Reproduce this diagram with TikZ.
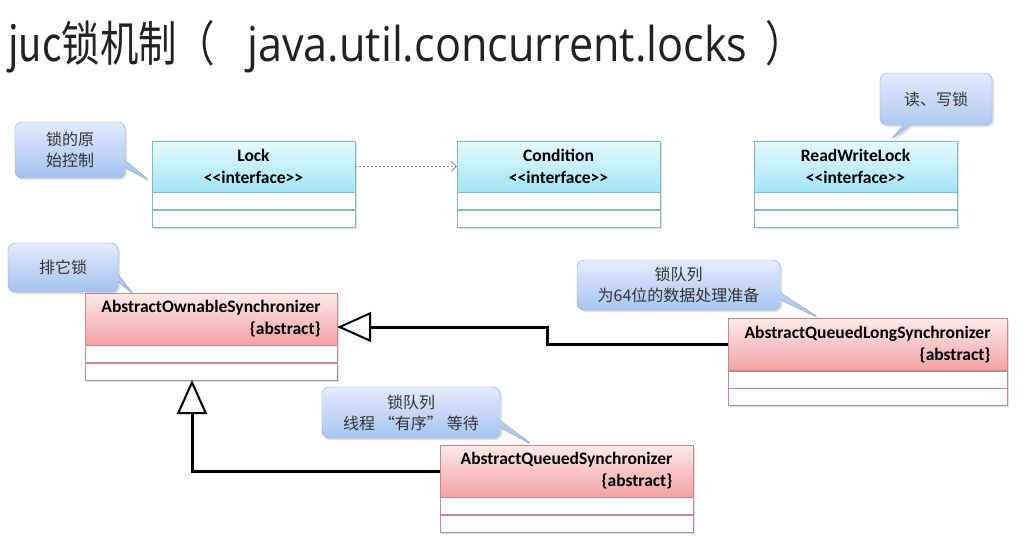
\documentclass[tikz,border=0pt]{standalone}
\usepackage{fontspec}
\setmainfont{Carlito}[Ligatures=TeXOff]
\newfontfamily\cjk{Noto Sans CJK SC}
\newfontfamily\cjktitle{Noto Sans CJK SC}[FakeStretch=0.8]
\newfontfamily\latintitle{Open Sans}[FakeStretch=0.9]
\usetikzlibrary{positioning,shapes.callouts,arrows.meta,shadows}

\definecolor{ifTop}{HTML}{E6FAFE}
\definecolor{ifBot}{HTML}{A4E4F4}
\definecolor{ifLine}{HTML}{86B6C4}
\definecolor{absTop}{HTML}{FDEAEA}
\definecolor{absBot}{HTML}{F2A2A2}
\definecolor{absLine}{HTML}{C48A8A}
\definecolor{noteTop}{HTML}{E2ECFC}
\definecolor{noteBot}{HTML}{A0BEEE}
\definecolor{noteLine}{HTML}{8FA8D4}
\definecolor{noteText}{HTML}{333333}
\definecolor{titleText}{HTML}{222222}
\definecolor{depLine}{HTML}{8A8A8A}

\tikzset{
  boxshadow/.style={drop shadow={opacity=0.25, shadow xshift=2pt, shadow yshift=-2pt}},
  ifhead/.style={draw=ifLine, top color=ifTop, bottom color=ifBot, minimum width=203pt,
                 minimum height=51pt, inner sep=0pt, align=center,
                 font=\fontsize{17.5}{22}\selectfont\bfseries, boxshadow},
  ifcomp/.style={draw=ifLine, fill=white, minimum width=203pt, minimum height=17pt,
                 inner sep=0pt, boxshadow},
  abshead/.style={draw=absLine, top color=absTop, bottom color=absBot, minimum width=#1,
                  minimum height=52pt, inner sep=0pt, align=right,
                  font=\fontsize{17.5}{22}\selectfont\bfseries, boxshadow},
  abscomp/.style={draw=absLine, fill=white, minimum width=#1, minimum height=17pt,
                  inner sep=0pt, boxshadow},
  note/.style={rectangle callout, rounded corners=7pt, draw=noteLine, top color=noteTop,
               bottom color=noteBot, text=noteText, align=center, inner sep=0pt,
               font=\cjk\fontsize{16}{21}\selectfont, boxshadow},
  depend/.style={draw=depLine, line width=0.8pt, dash pattern=on 2pt off 2pt,
                 -{Straight Barb[length=5pt,width=10pt]}},
  inherit/.style={line width=3pt, -{Triangle[open, length=34pt, width=30pt, line width=2pt]}}
}

\begin{document}
\begin{tikzpicture}[x=1pt, y=-1pt]
\useasboundingbox[fill=white] (0,0) rectangle (1030,548);

\node[anchor=base west, inner sep=0pt, font=\cjktitle\fontsize{48}{52}\selectfont, text=titleText] (title)
  at (8,62) {juc锁机制（\hspace*{32pt}{\latintitle java.util.concurrent.locks}\hspace*{18pt}）};

% interfaces
\node[ifhead] (lock) at (253.5,166.5) {Lock\\<<interface>>};
\node[ifcomp, below=0pt of lock] (lock1) {};
\node[ifcomp, below=0pt of lock1] (lock2) {};

\node[ifhead] (cond) at (558.5,166.5) {Condition\\<<interface>>};
\node[ifcomp, below=0pt of cond] (cond1) {};
\node[ifcomp, below=0pt of cond1] (cond2) {};

\node[ifhead] (rw) at (855.5,166.5) {ReadWriteLock\\<<interface>>};
\node[ifcomp, below=0pt of rw] (rw1) {};
\node[ifcomp, below=0pt of rw1] (rw2) {};

% abstract classes
\node[abshead=252pt] (aos) at (211,319) {AbstractOwnableSynchronizer\\\{abstract\}};
\node[abscomp=252pt, below=0pt of aos] (aos1) {};
\node[abscomp=252pt, below=0pt of aos1] (aos2) {};

\node[abshead=279pt] (aqls) at (867.5,344.5) {AbstractQueuedLongSynchronizer\\\{abstract\}};
\node[abscomp=279pt, below=0pt of aqls] (aqls1) {};
\node[abscomp=279pt, below=0pt of aqls1] (aqls2) {};

\node[abshead=253pt] (aqs) at (566.5,471) {AbstractQueuedSynchronizer\\\{abstract\}};
\node[abscomp=253pt, below=0pt of aqs] (aqs1) {};
\node[abscomp=253pt, below=0pt of aqs1] (aqs2) {};

% connectors
\draw[depend] (lock.east) -- (cond.west);
\draw[inherit] (aqls.west) -- ++(-180,0) |- ([yshift=-8pt]aos.east);
\draw[inherit] (aqs.west) -| ([xshift=-19pt]aos2.south);

% notes
\node[note, minimum width=110pt, minimum height=56pt,
      callout absolute pointer={([xshift=-1pt,yshift=-15pt]lock.west)}] (lockNote) at (70,150)
  {锁的原\\始控制};
\node[note, minimum width=112pt, minimum height=52pt,
      callout absolute pointer={([xshift=34pt]rw.north)}] (rwNote) at (936,99)
  {读、写锁};
\node[note, minimum width=110pt, minimum height=49pt,
      callout absolute pointer={([xshift=50pt,yshift=-3pt]aos.north west)}] (exclNote) at (63,267.5)
  {排它锁};
\node[note, minimum width=203pt, minimum height=50pt,
      callout absolute pointer={([xshift=92pt]aqls.north west)}] (aqlsNote) at (678.5,285)
  {锁队列\\为64位的数据处理准备};
\node[note, minimum width=178pt, minimum height=51pt,
      callout absolute pointer={([xshift=93pt]aqs.north west)}] (aqsNote) at (411,412.5)
  {锁队列\\线程\hspace{4pt}“有序”\hspace{4pt}等待};
\end{tikzpicture}
\end{document}
